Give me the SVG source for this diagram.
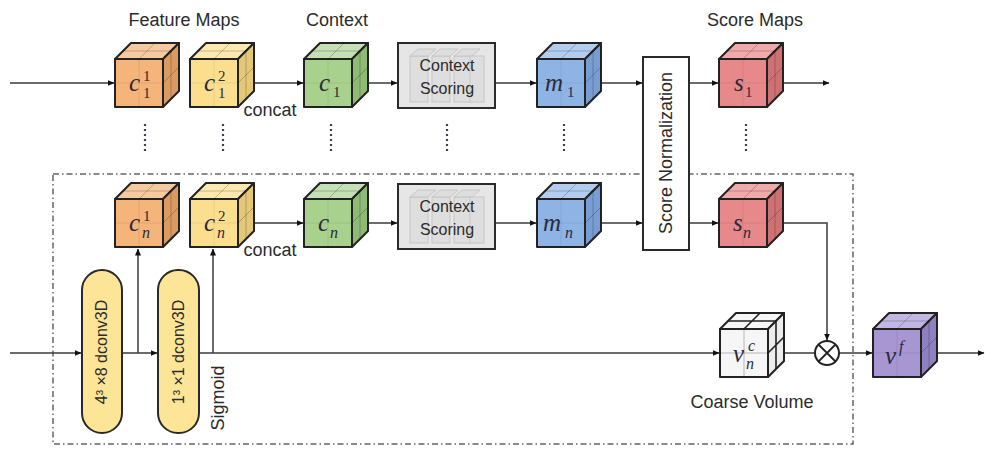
<svg xmlns="http://www.w3.org/2000/svg" width="985" height="449" viewBox="0 0 985 449">
<style>
.bg{fill:#ffffff}
.ln{fill:none;stroke:#3a3a3a;stroke-width:1.5}
.box{stroke:#2a2a2a;stroke-width:2}
.edge{stroke:#222;stroke-width:2;stroke-linejoin:round}
.g1{fill:none;stroke:#000;stroke-opacity:0.22;stroke-width:1}
.g0{fill:none;stroke:#000;stroke-opacity:0.07;stroke-width:1}
.orange .front{fill:#F4B47A}.orange .top{fill:#F7C99E}.orange .side{fill:#DB9A62}
.yellow .front{fill:#FCDF8E}.yellow .top{fill:#FDE9B0}.yellow .side{fill:#E4C878}
.green .front{fill:#A9D18E}.green .top{fill:#C5E0B4}.green .side{fill:#8DBA75}
.blue .front{fill:#8EB4E6}.blue .top{fill:#B3CCEF}.blue .side{fill:#789DD2}
.red .front{fill:#E7898A}.red .top{fill:#F0AAAA}.red .side{fill:#CF7172}
.purple .front{fill:#A796D2}.purple .top{fill:#C2B6E2}.purple .side{fill:#9080C0}
.white .front{fill:#F6F6F6}.white .top{fill:#F6F6F6}.white .side{fill:#EDEDED}
.white .g1{stroke:#222;stroke-opacity:1;stroke-width:1.6}
.white .g0{stroke:#222;stroke-opacity:0.3}
.title{font-family:"Liberation Sans",Arial,sans-serif;font-size:18px;fill:#2b2b2b}
.lbl{font-family:"Liberation Sans",Arial,sans-serif;font-size:16px;fill:#2b2b2b}
.math{font-family:"Liberation Serif","Times New Roman",serif;font-style:italic;font-size:25px;fill:#2a2a3a}
.idx{font-family:"Liberation Serif","Times New Roman",serif;font-size:15px;fill:#2a2a3a}
.idxi{font-family:"Liberation Serif","Times New Roman",serif;font-style:italic;font-size:16px;fill:#2a2a3a}
.dots{fill:none;stroke:#3d3d55;stroke-width:2.2;stroke-dasharray:2 3}
.frame{fill:none;stroke:#666;stroke-width:1.5;stroke-dasharray:6 3 1.5 3}
.slab{fill:#dedede;stroke:#c6c6c6;stroke-width:1}
</style>
<defs>
<marker id="ah" markerWidth="7" markerHeight="7" refX="6.5" refY="3.5" orient="auto" markerUnits="userSpaceOnUse">
<path d="M0,0.5 L7,3.5 L0,6.5 z" fill="#111"/>
</marker>
</defs>
<rect class="bg" x="0" y="0" width="985" height="449"/>

<!-- frame -->
<rect class="frame" x="53" y="174" width="800" height="270"/>

<!-- titles -->
<text class="title" x="184" y="26" text-anchor="middle">Feature Maps</text>
<text class="title" x="337" y="26" text-anchor="middle">Context</text>
<text class="title" x="755" y="26" text-anchor="middle">Score Maps</text>
<text class="title" x="270" y="116" text-anchor="middle">concat</text>
<text class="title" x="270" y="256" text-anchor="middle">concat</text>
<text class="title" x="752" y="408" text-anchor="middle">Coarse Volume</text>

<!-- connectors -->
<g id="connectors">
<line class="ln" x1="10" y1="83" x2="114" y2="83" marker-end="url(#ah)"/>
<line class="ln" x1="254" y1="83" x2="303" y2="83" marker-end="url(#ah)"/>
<line class="ln" x1="368" y1="83" x2="397" y2="83" marker-end="url(#ah)"/>
<line class="ln" x1="495" y1="83" x2="536" y2="83" marker-end="url(#ah)"/>
<line class="ln" x1="601" y1="83" x2="642" y2="83" marker-end="url(#ah)"/>
<line class="ln" x1="689" y1="83" x2="718" y2="83" marker-end="url(#ah)"/>
<line class="ln" x1="783" y1="83" x2="829" y2="83" marker-end="url(#ah)"/>

<line class="ln" x1="254" y1="223" x2="303" y2="223" marker-end="url(#ah)"/>
<line class="ln" x1="368" y1="223" x2="397" y2="223" marker-end="url(#ah)"/>
<line class="ln" x1="495" y1="223" x2="536" y2="223" marker-end="url(#ah)"/>
<line class="ln" x1="601" y1="223" x2="642" y2="223" marker-end="url(#ah)"/>
<line class="ln" x1="689" y1="223" x2="718" y2="223" marker-end="url(#ah)"/>
<polyline class="ln" points="783,223 827,223 827,340" marker-end="url(#ah)"/>

<line class="ln" x1="10" y1="353" x2="81" y2="353" marker-end="url(#ah)"/>
<line class="ln" x1="122" y1="353" x2="157" y2="353" marker-end="url(#ah)"/>
<line class="ln" x1="138" y1="353" x2="138" y2="249" marker-end="url(#ah)"/>
<line class="ln" x1="199" y1="353" x2="719" y2="353" marker-end="url(#ah)"/>
<line class="ln" x1="213" y1="353" x2="213" y2="249" marker-end="url(#ah)"/>
<line class="ln" x1="784" y1="353" x2="815" y2="353"/>
<line class="ln" x1="839" y1="353" x2="872" y2="353" marker-end="url(#ah)"/>
<line class="ln" x1="937" y1="353" x2="984" y2="353" marker-end="url(#ah)"/>

<!-- ellipsis dots -->
<line class="dots" x1="145" y1="124" x2="145" y2="154"/>
<line class="dots" x1="223" y1="124" x2="223" y2="154"/>
<line class="dots" x1="331" y1="124" x2="331" y2="154"/>
<line class="dots" x1="447" y1="124" x2="447" y2="154"/>
<line class="dots" x1="564" y1="124" x2="564" y2="154"/>
<line class="dots" x1="746" y1="124" x2="746" y2="154"/>
</g>

<!-- top row cubes -->
<g id="c11" class="orange"><g transform="translate(115,59)"><rect class="front edge" width="48" height="48"/><path class="g0" d="M24,0V48M0,24H48"/><polygon class="top edge" points="0,0 16,-16 64,-16 48,0"/><polygon class="side edge" points="48,0 64,-16 64,32 48,48"/><path class="g1" d="M8,-8H56M24,0L40,-16M56,-8V40M48,24L64,8"/></g>
<text class="math" x="129" y="91">c</text><text class="idx" x="143" y="81">1</text><text class="idx" x="143" y="98">1</text></g>
<g id="c12" class="yellow"><g transform="translate(190,59)"><rect class="front edge" width="48" height="48"/><path class="g0" d="M24,0V48M0,24H48"/><polygon class="top edge" points="0,0 16,-16 64,-16 48,0"/><polygon class="side edge" points="48,0 64,-16 64,32 48,48"/><path class="g1" d="M8,-8H56M24,0L40,-16M56,-8V40M48,24L64,8"/></g>
<text class="math" x="204" y="91">c</text><text class="idx" x="218" y="81">2</text><text class="idx" x="218" y="98">1</text></g>
<g id="c1" class="green"><g transform="translate(304,59)"><rect class="front edge" width="48" height="48"/><path class="g0" d="M24,0V48M0,24H48"/><polygon class="top edge" points="0,0 16,-16 64,-16 48,0"/><polygon class="side edge" points="48,0 64,-16 64,32 48,48"/><path class="g1" d="M8,-8H56M24,0L40,-16M56,-8V40M48,24L64,8"/></g>
<text class="math" x="319" y="91">c</text><text class="idx" x="333" y="97">1</text></g>
<g id="ctx1">
<rect x="398" y="43" width="97" height="65" fill="#E6E6E6" class="box"/>
<rect class="slab" x="410" y="56" width="18" height="46"/><polygon class="slab" points="410,56 418,49 436,49 428,56"/>
<rect class="slab" x="432" y="56" width="18" height="46"/><polygon class="slab" points="432,56 440,49 458,49 450,56"/>
<rect class="slab" x="454" y="56" width="18" height="46"/><polygon class="slab" points="454,56 462,49 480,49 472,56"/>
<rect class="slab" x="470" y="56" width="14" height="46"/>
<text class="lbl" x="447" y="71" text-anchor="middle">Context</text>
<text class="lbl" x="447" y="94" text-anchor="middle">Scoring</text></g>
<g id="m1" class="blue"><g transform="translate(537,59)"><rect class="front edge" width="48" height="48"/><path class="g0" d="M24,0V48M0,24H48"/><polygon class="top edge" points="0,0 16,-16 64,-16 48,0"/><polygon class="side edge" points="48,0 64,-16 64,32 48,48"/><path class="g1" d="M8,-8H56M24,0L40,-16M56,-8V40M48,24L64,8"/></g>
<text class="math" x="545" y="91">m</text><text class="idx" x="567" y="97">1</text></g>
<g id="s1" class="red"><g transform="translate(719,59)"><rect class="front edge" width="48" height="48"/><path class="g0" d="M24,0V48M0,24H48"/><polygon class="top edge" points="0,0 16,-16 64,-16 48,0"/><polygon class="side edge" points="48,0 64,-16 64,32 48,48"/><path class="g1" d="M8,-8H56M24,0L40,-16M56,-8V40M48,24L64,8"/></g>
<text class="math" x="734" y="91">s</text><text class="idx" x="745" y="97">1</text></g>

<!-- score normalization -->
<g id="scorenorm">
<rect x="643" y="57" width="46" height="193" fill="#ffffff" class="box"/>
<text class="title" x="672" y="153" text-anchor="middle" transform="rotate(-90 672 153)">Score Normalization</text></g>

<!-- bottom row cubes -->
<g id="cn1" class="orange"><g transform="translate(115,199)"><rect class="front edge" width="48" height="48"/><path class="g0" d="M24,0V48M0,24H48"/><polygon class="top edge" points="0,0 16,-16 64,-16 48,0"/><polygon class="side edge" points="48,0 64,-16 64,32 48,48"/><path class="g1" d="M8,-8H56M24,0L40,-16M56,-8V40M48,24L64,8"/></g>
<text class="math" x="129" y="231">c</text><text class="idx" x="143" y="221">1</text><text class="idxi" x="142" y="238">n</text></g>
<g id="cn2" class="yellow"><g transform="translate(190,199)"><rect class="front edge" width="48" height="48"/><path class="g0" d="M24,0V48M0,24H48"/><polygon class="top edge" points="0,0 16,-16 64,-16 48,0"/><polygon class="side edge" points="48,0 64,-16 64,32 48,48"/><path class="g1" d="M8,-8H56M24,0L40,-16M56,-8V40M48,24L64,8"/></g>
<text class="math" x="204" y="231">c</text><text class="idx" x="218" y="221">2</text><text class="idxi" x="217" y="238">n</text></g>
<g id="cn" class="green"><g transform="translate(304,199)"><rect class="front edge" width="48" height="48"/><path class="g0" d="M24,0V48M0,24H48"/><polygon class="top edge" points="0,0 16,-16 64,-16 48,0"/><polygon class="side edge" points="48,0 64,-16 64,32 48,48"/><path class="g1" d="M8,-8H56M24,0L40,-16M56,-8V40M48,24L64,8"/></g>
<text class="math" x="318" y="231">c</text><text class="idxi" x="330" y="238">n</text></g>
<g id="ctxn">
<rect x="398" y="184" width="97" height="65" fill="#E6E6E6" class="box"/>
<rect class="slab" x="410" y="197" width="18" height="46"/><polygon class="slab" points="410,197 418,190 436,190 428,197"/>
<rect class="slab" x="432" y="197" width="18" height="46"/><polygon class="slab" points="432,197 440,190 458,190 450,197"/>
<rect class="slab" x="454" y="197" width="18" height="46"/><polygon class="slab" points="454,197 462,190 480,190 472,197"/>
<rect class="slab" x="470" y="197" width="14" height="46"/>
<text class="lbl" x="447" y="212" text-anchor="middle">Context</text>
<text class="lbl" x="447" y="235" text-anchor="middle">Scoring</text></g>
<g id="mn" class="blue"><g transform="translate(537,199)"><rect class="front edge" width="48" height="48"/><path class="g0" d="M24,0V48M0,24H48"/><polygon class="top edge" points="0,0 16,-16 64,-16 48,0"/><polygon class="side edge" points="48,0 64,-16 64,32 48,48"/><path class="g1" d="M8,-8H56M24,0L40,-16M56,-8V40M48,24L64,8"/></g>
<text class="math" x="543" y="231">m</text><text class="idxi" x="565" y="238">n</text></g>
<g id="sn" class="red"><g transform="translate(719,199)"><rect class="front edge" width="48" height="48"/><path class="g0" d="M24,0V48M0,24H48"/><polygon class="top edge" points="0,0 16,-16 64,-16 48,0"/><polygon class="side edge" points="48,0 64,-16 64,32 48,48"/><path class="g1" d="M8,-8H56M24,0L40,-16M56,-8V40M48,24L64,8"/></g>
<text class="math" x="733" y="231">s</text><text class="idxi" x="743" y="238">n</text></g>

<!-- pills -->
<g id="dconv1">
<rect x="82" y="270" width="40" height="163" rx="20" ry="20" fill="#FDE597" class="box"/>
<text class="lbl" x="107" y="352" text-anchor="middle" transform="rotate(-90 107 352)">4³ ×8 dconv3D</text></g>
<g id="dconv2">
<rect x="158" y="270" width="41" height="163" rx="20" ry="20" fill="#FDE597" class="box"/>
<text class="lbl" x="184" y="352" text-anchor="middle" transform="rotate(-90 184 352)">1³ ×1 dconv3D</text></g>
<text class="title" x="224" y="398" text-anchor="middle" transform="rotate(-90 224 398)">Sigmoid</text>

<!-- coarse volume -->
<g id="coarse" class="white"><g transform="translate(720,329)"><rect class="front edge" width="48" height="48"/><path class="g0" d="M24,0V48M0,24H48"/><polygon class="top edge" points="0,0 16,-16 64,-16 48,0"/><polygon class="side edge" points="48,0 64,-16 64,32 48,48"/><path class="g1" d="M8,-8H56M24,0L40,-16M56,-8V40M48,24L64,8"/></g>
<text class="math" x="733" y="362">v</text><text class="idxi" x="748" y="351">c</text><text class="idxi" x="746" y="369">n</text></g>

<!-- otimes -->
<g id="mult">
<circle cx="827" cy="353" r="12" fill="#ffffff" stroke="#222" stroke-width="2"/>
<path d="M818.5,344.5 L835.5,361.5 M835.5,344.5 L818.5,361.5" stroke="#222" stroke-width="1.8"/></g>

<!-- fine volume -->
<g id="vf" class="purple"><g transform="translate(873,329)"><rect class="front edge" width="48" height="48"/><path class="g0" d="M24,0V48M0,24H48"/><polygon class="top edge" points="0,0 16,-16 64,-16 48,0"/><polygon class="side edge" points="48,0 64,-16 64,32 48,48"/><path class="g1" d="M8,-8H56M24,0L40,-16M56,-8V40M48,24L64,8"/></g>
<text class="math" x="885" y="364">v</text><text class="idxi" x="899" y="352" font-size="17">f</text></g>
</svg>
